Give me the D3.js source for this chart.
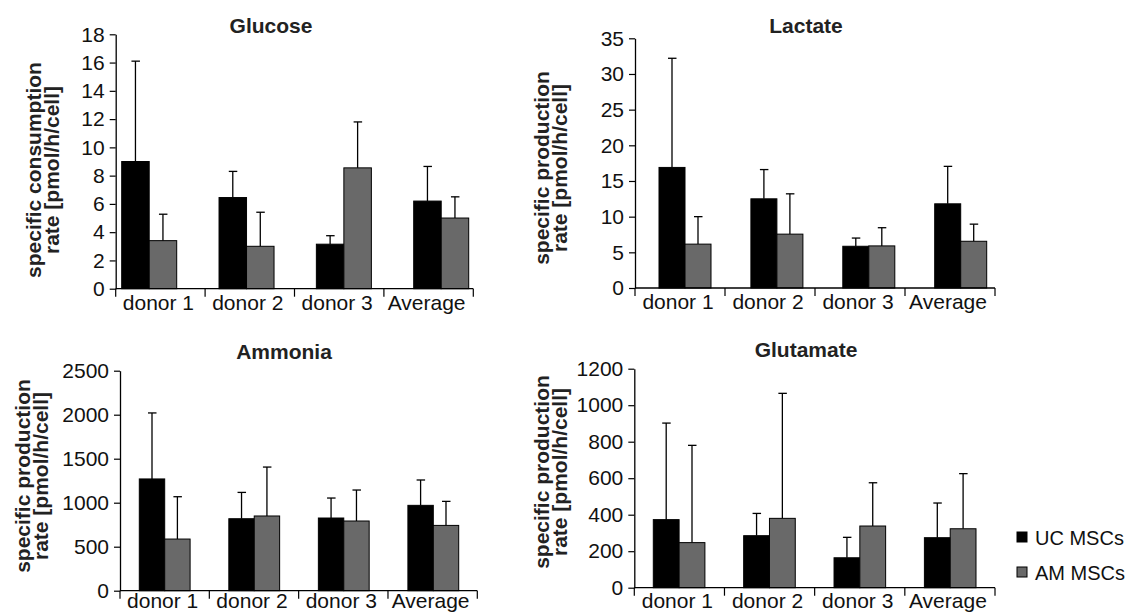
<!DOCTYPE html>
<html>
<head>
<meta charset="utf-8">
<script src="https://cdn.jsdelivr.net/npm/d3@7"></script>
<style>
  html, body { margin: 0; padding: 0; background: #fff; }
  svg { display: block; font-family: "Liberation Sans", Arial, sans-serif; }
</style>
</head>
<body>
<svg id="chart" width="1131" height="613"></svg>
<script>
// Metabolite rates of UC and AM MSCs per donor (mean + SD)
const categories = ["donor 1", "donor 2", "donor 3", "Average"];
const seriesNames = ["UC MSCs", "AM MSCs"];
const seriesColors = ["#000000", "#696969"];

const glucoseUC = [9.0, 6.45, 3.15, 6.2];
const glucoseUCsd = [7.1, 1.85, 0.6, 2.45];
const glucoseAM = [3.4, 3.0, 8.55, 5.0];
const glucoseAMsd = [1.87, 2.41, 3.25, 1.5];

const lactateUC = [16.9, 12.5, 5.85, 11.8];
const lactateUCsd = [15.3, 4.1, 1.15, 5.25];
const lactateAM = [6.15, 7.55, 5.9, 6.55];
const lactateAMsd = [3.85, 5.65, 2.55, 2.4];

const ammoniaUC = [1270, 818, 826, 970];
const ammoniaUCsd = [750, 299, 227, 288];
const ammoniaAM = [587, 849, 792, 742];
const ammoniaAMsd = [481, 556, 352, 273];

const glutamateUC = [373, 285, 164, 274];
const glutamateUCsd = [529, 122, 112, 190];
const glutamateAM = [247, 380, 338, 323];
const glutamateAMsd = [533, 685, 237, 302];

const glucoseTicks = [0, 2, 4, 6, 8, 10, 12, 14, 16, 18];
const lactateTicks = [0, 5, 10, 15, 20, 25, 30, 35];
const ammoniaTicks = [0, 500, 1000, 1500, 2000, 2500];
const glutamateTicks = [0, 200, 400, 600, 800, 1000, 1200];

const FONT = 21;
const svg = d3.select("#chart");

function drawPanel(p) {
  const g = svg.append("g");

  const y = d3.scaleLinear()
    .domain([0, p.ticks[p.ticks.length - 1]])
    .range([p.bottom, p.top]);

  // category axis (labels and separators)
  const xAxis = d3.scaleBand().domain(categories).range([p.left, p.right]);

  // bar groups
  const total = p.barEnd - p.barStart;
  const step = (total - 2 * p.barWidth) / 3;
  const xBar = d3.scaleBand().domain(categories)
    .range([p.barStart, p.barEnd])
    .paddingInner(1 - 2 * p.barWidth / step)
    .paddingOuter(0);
  const xSeries = d3.scaleBand().domain(seriesNames).range([0, xBar.bandwidth()]);

  const rows = [];
  categories.forEach((c, i) => {
    rows.push({ cat: c, s: seriesNames[0], v: p.uc[i], sd: p.ucSd[i], color: seriesColors[0] });
    rows.push({ cat: c, s: seriesNames[1], v: p.am[i], sd: p.amSd[i], color: seriesColors[1] });
  });

  // error bars (upper only)
  const err = g.append("g").attr("stroke", "#000").attr("stroke-width", 1.3);
  rows.forEach(d => {
    const cx = xBar(d.cat) + xSeries(d.s) + xSeries.bandwidth() / 2;
    err.append("line")
      .attr("x1", cx).attr("x2", cx)
      .attr("y1", y(d.v)).attr("y2", y(d.v + d.sd));
    err.append("line")
      .attr("x1", cx - 4).attr("x2", cx + 4.5)
      .attr("y1", y(d.v + d.sd)).attr("y2", y(d.v + d.sd));
  });

  // bars
  g.append("g").selectAll("rect").data(rows).join("rect")
    .attr("x", d => xBar(d.cat) + xSeries(d.s))
    .attr("y", d => y(d.v))
    .attr("width", xSeries.bandwidth())
    .attr("height", d => y(0) - y(d.v))
    .attr("fill", d => d.color)
    .attr("stroke", "#000")
    .attr("stroke-width", 1);

  // y axis
  const yAx = g.append("g")
    .attr("transform", `translate(${p.left},0)`)
    .call(d3.axisLeft(y).tickValues(p.ticks).tickFormat(d3.format("d"))
      .tickSize(6).tickSizeOuter(0).tickPadding(5));
  yAx.select(".domain").attr("stroke", "#000").attr("stroke-width", 1.3);
  yAx.selectAll(".tick line").attr("stroke", "#000").attr("stroke-width", 1.2);
  yAx.selectAll(".tick text")
    .attr("font-size", FONT).attr("fill", "#111")
    .attr("font-family", "Liberation Sans, Arial, sans-serif");

  // x axis line, separators at band edges, centred labels
  const xg = g.append("g");
  xg.append("line")
    .attr("x1", p.left).attr("x2", p.right)
    .attr("y1", p.bottom).attr("y2", p.bottom)
    .attr("stroke", "#000").attr("stroke-width", 1.3);
  const edges = categories.map(c => xAxis(c)).concat([p.right]);
  xg.selectAll(".sep").data(edges).join("line")
    .attr("class", "sep")
    .attr("x1", d => d).attr("x2", d => d)
    .attr("y1", p.bottom).attr("y2", p.bottom + 8)
    .attr("stroke", "#000").attr("stroke-width", 1.2);
  xg.selectAll(".cat").data(categories).join("text")
    .attr("class", "cat")
    .attr("x", d => xAxis(d) + xAxis.bandwidth() / 2 - 2)
    .attr("y", Math.min(p.bottom + 21, 608))
    .attr("text-anchor", "middle")
    .attr("font-size", FONT).attr("fill", "#111")
    .text(d => d);

  // title
  g.append("text")
    .attr("x", p.titleX).attr("y", p.titleY)
    .attr("text-anchor", "middle")
    .attr("font-size", FONT).attr("font-weight", "bold").attr("fill", "#222")
    .text(p.title);

  // y axis title (two lines)
  p.yLabel.forEach((line, i) => {
    g.append("text")
      .attr("transform", `translate(${p.yLabelX[i]},${p.yLabelCy}) rotate(-90)`)
      .attr("text-anchor", "middle")
      .attr("font-size", FONT).attr("font-weight", "bold").attr("fill", "#222")
      .text(line);
  });
}

drawPanel({
  title: "Glucose", titleX: 271, titleY: 33,
  yLabel: ["specific consumption", "rate [pmol/h/cell]"], yLabelX: [41, 59], yLabelCy: 170,
  uc: glucoseUC, ucSd: glucoseUCsd, am: glucoseAM, amSd: glucoseAMsd, ticks: glucoseTicks,
  left: 115.7, right: 473.3, bottom: 288.7, top: 34.3,
  barStart: 121.7, barEnd: 468.7, barWidth: 27.5
});

drawPanel({
  title: "Lactate", titleX: 806, titleY: 33,
  yLabel: ["specific production", "rate [pmol/h/cell]"], yLabelX: [549, 567], yLabelCy: 168,
  uc: lactateUC, ucSd: lactateUCsd, am: lactateAM, amSd: lactateAMsd, ticks: lactateTicks,
  left: 635, right: 995, bottom: 288, top: 38.3,
  barStart: 659, barEnd: 986.7, barWidth: 26
});

drawPanel({
  title: "Ammonia", titleX: 284, titleY: 359,
  yLabel: ["specific production", "rate [pmol/h/cell]"], yLabelX: [30, 48], yLabelCy: 476,
  uc: ammoniaUC, ucSd: ammoniaUCsd, am: ammoniaAM, amSd: ammoniaAMsd, ticks: ammoniaTicks,
  left: 120, right: 477.3, bottom: 590.7, top: 370.7,
  barStart: 139.3, barEnd: 458.7, barWidth: 25.4
});

drawPanel({
  title: "Glutamate", titleX: 806, titleY: 357,
  yLabel: ["specific production", "rate [pmol/h/cell]"], yLabelX: [549, 567], yLabelCy: 472,
  uc: glutamateUC, ucSd: glutamateUCsd, am: glutamateAM, amSd: glutamateAMsd, ticks: glutamateTicks,
  left: 634.3, right: 995, bottom: 587.7, top: 368.7,
  barStart: 653.3, barEnd: 976, barWidth: 25.8
});

// legend
const legend = svg.append("g").attr("transform", "translate(1017,532)");
seriesNames.forEach((name, i) => {
  const row = legend.append("g").attr("transform", `translate(0,${i * 35})`);
  row.append("rect")
    .attr("width", 10).attr("height", 10)
    .attr("fill", seriesColors[i]).attr("stroke", "#000").attr("stroke-width", 1);
  row.append("text")
    .attr("x", 18).attr("y", 13)
    .attr("font-size", FONT - 1).attr("fill", "#111")
    .text(name);
});
</script>
</body>
</html>
